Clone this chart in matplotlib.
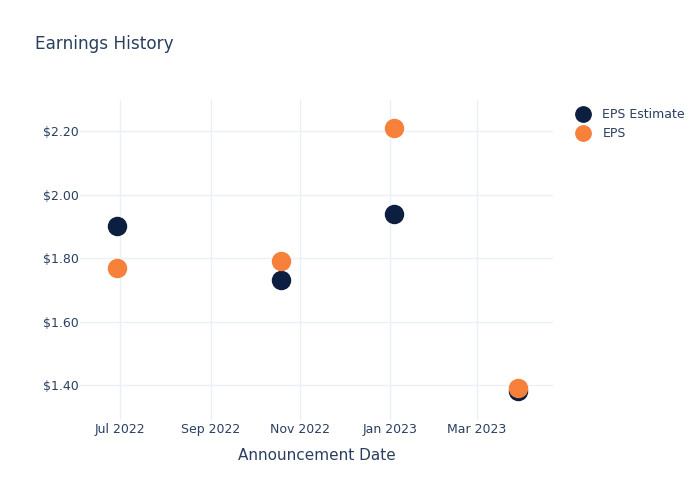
import matplotlib
matplotlib.use("Agg")
import matplotlib.pyplot as plt
import matplotlib.dates as mdates
import matplotlib.ticker as mticker
import pandas as pd

dates = pd.to_datetime(["2022-06-29", "2022-10-19", "2023-01-04", "2023-03-29"])
eps_estimate = [1.90, 1.73, 1.94, 1.38]
eps_actual = [1.77, 1.79, 2.21, 1.39]
y_ticks = [1.40, 1.60, 1.80, 2.00, 2.20]
x_ticks = pd.to_datetime(["2022-07-01", "2022-09-01", "2022-11-01", "2023-01-01", "2023-03-01"])

text_color = "#2a3f5f"
grid_color = "#ebf0f8"
navy = "#0c1f40"
orange = "#f7803a"

fig = plt.figure(figsize=(7, 5), dpi=100)
ax = fig.add_axes([80/700, 1-420/500, (553-80)/700, (420-100)/500])

ax.plot(dates, eps_estimate, "o", color=navy, markersize=13, label="EPS Estimate", zorder=3)
ax.plot(dates, eps_actual, "o", color=orange, markersize=13, label="EPS", zorder=4)

ax.set_xlim(pd.Timestamp("2022-06-04"), pd.Timestamp("2023-04-22"))
ax.set_ylim(1.29, 2.298)
ax.set_yticks(y_ticks)
ax.yaxis.set_major_formatter(mticker.FuncFormatter(lambda v, p: f"${v:.2f}"))
ax.set_xticks(x_ticks)
ax.xaxis.set_major_formatter(mdates.DateFormatter("%b %Y"))

ax.grid(True, color=grid_color, linewidth=1)
ax.set_axisbelow(True)
for s in ax.spines.values():
    s.set_visible(False)
ax.tick_params(length=0, colors=text_color, labelsize=9)
ax.tick_params(axis="x", pad=2)
ax.tick_params(axis="y", pad=1)
for lab in ax.get_xticklabels() + ax.get_yticklabels():
    lab.set_color(text_color)

ax.set_xlabel("Announcement Date", color=text_color, fontsize=11, labelpad=9)
fig.text(35/700, 1-44/500, "Earnings History", color=text_color, fontsize=12.2, va="center")

leg = fig.legend(loc="upper left", bbox_to_anchor=(565/700, 1-103/500), frameon=False,
                 fontsize=9, handletextpad=0.6, labelspacing=0.5, borderaxespad=0,
                 markerscale=0.85)
for t in leg.get_texts():
    t.set_color(text_color)

fig.savefig("out.png", dpi=100)
